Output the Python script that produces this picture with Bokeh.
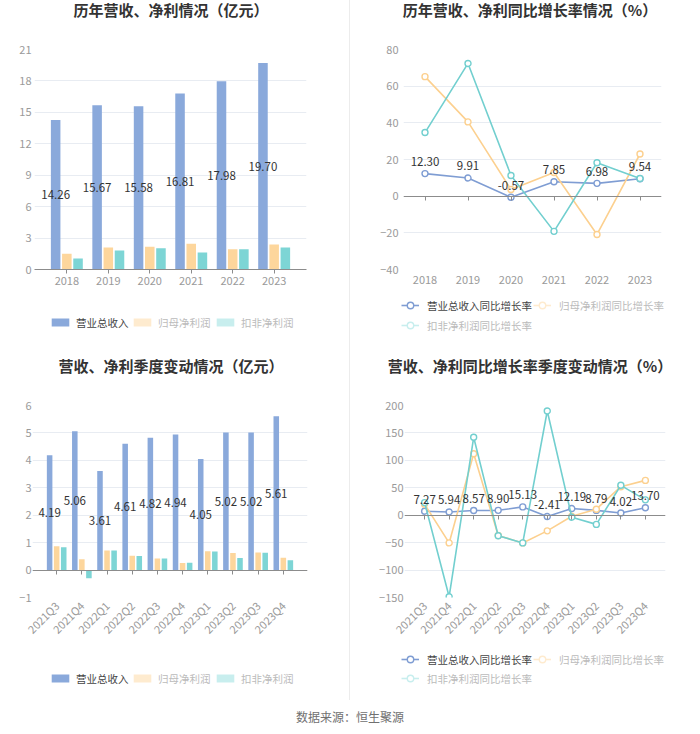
import math
from bokeh.plotting import figure
from bokeh.models import (Range1d, FactorRange, FixedTicker, CategoricalAxis, Legend,
                          LegendItem, Div, ColumnDataSource)
from bokeh.layouts import column, row
from bokeh.embed import file_html
from bokeh.resources import INLINE
from bokeh.core.properties import value
from bokeh.transform import dodge

# ---------------- data ----------------
years = ["2018", "2019", "2020", "2021", "2022", "2023"]
rev_year = [14.26, 15.67, 15.58, 16.81, 17.98, 19.70]
np_year = [1.50, 2.10, 2.17, 2.45, 1.94, 2.39]
kf_year = [1.05, 1.81, 2.03, 1.62, 1.94, 2.10]

rev_yoy = [12.30, 9.91, -0.57, 7.85, 6.98, 9.54]
np_yoy = [65.2, 40.5, 3.6, 12.9, -20.9, 23.0]
kf_yoy = [34.7, 72.4, 11.3, -19.2, 18.2, 9.6]

quarters = ["2021Q3", "2021Q4", "2022Q1", "2022Q2", "2022Q3",
            "2022Q4", "2023Q1", "2023Q2", "2023Q3", "2023Q4"]
rev_q = [4.19, 5.06, 3.61, 4.61, 4.82, 4.94, 4.05, 5.02, 5.02, 5.61]
np_q = [0.87, 0.39, 0.71, 0.52, 0.42, 0.26, 0.69, 0.62, 0.64, 0.45]
kf_q = [0.83, -0.30, 0.71, 0.51, 0.42, 0.27, 0.68, 0.44, 0.63, 0.36]

rev_q_yoy = [7.27, 5.94, 8.57, 8.90, 15.13, -2.41, 12.19, 8.79, 4.02, 13.70]
np_q_yoy = [20.0, -50.5, 112.0, -37.0, -50.5, -28.5, -2.0, 11.0, 52.0, 63.5]
kf_q_yoy = [23.0, -148.5, 142.0, -37.4, -50.5, 190.0, -3.6, -16.7, 54.5, 28.0]

ticks_tl = [0, 3, 6, 9, 12, 15, 18, 21]
ticks_tr = [-40, -20, 0, 20, 40, 60, 80]
ticks_bl = [-1, 0, 1, 2, 3, 4, 5, 6]
ticks_br = [-150, -100, -50, 0, 50, 100, 150, 200]

titles = ["历年营收、净利情况（亿元）", "历年营收、净利同比增长率情况（%）",
          "营收、净利季度变动情况（亿元）", "营收、净利同比增长率季度变动情况（%）"]
names_bar = ["营业总收入", "归母净利润", "扣非净利润"]
names_line = ["营业总收入同比增长率", "归母净利润同比增长率", "扣非净利润同比增长率"]
source_note = "数据来源：恒生聚源"

# ---------------- style ----------------
FONT = "Noto Sans CJK SC"
C_BLUE = "#8aa9db"
C_ORANGE = "#fdd69c"
C_TEAL = "#7dd5d5"
L_BLUE = "#7f9dd3"
L_ORANGE = "#fcd08f"
L_TEAL = "#72cfcf"
P_ORANGE = "#feebcf"
P_TEAL = "#c8eeee"
GRID = "#e8ecf2"
AXIS = "#8c8c8c"
TICK_TXT = "#9a9a9a"
W = 350


def title_div(text, height, inner_w, line_h):
    html = (f'<div style="width:{inner_w}px;text-align:center;font-family:\'{FONT}\';'
            f'font-weight:bold;font-size:15px;color:#333333;line-height:{line_h}px;'
            f'white-space:nowrap;position:relative;left:5px;">{text}</div>')
    return Div(text=html, width=W, height=height, margin=0)


def base_fig(x_factors, pad, y0, y1, yticks, height, bl, br, bt, bb, ystand):
    p = figure(width=W, height=height,
               x_range=FactorRange(*x_factors, range_padding=pad,
                                   range_padding_units="absolute"),
               y_range=Range1d(y0, y1), output_backend="svg", toolbar_location=None,
               min_border_left=bl, min_border_right=br, min_border_top=bt,
               min_border_bottom=bb)
    p.frame_align = False
    p.outline_line_color = None
    p.background_fill_color = "white"
    p.border_fill_color = "white"
    p.xgrid.grid_line_color = None
    p.ygrid.grid_line_color = GRID
    p.yaxis.ticker = FixedTicker(ticks=yticks)
    p.yaxis.axis_line_color = None
    p.yaxis.major_tick_line_color = None
    p.yaxis.minor_tick_line_color = None
    p.yaxis.major_tick_out = 0
    p.yaxis.major_tick_in = 0
    p.yaxis.major_label_standoff = ystand
    p.yaxis.major_label_text_font = FONT
    p.yaxis.major_label_text_font_size = "11px"
    p.yaxis.major_label_text_color = TICK_TXT
    ax = p.xaxis[0]
    ax.major_label_text_font = FONT
    ax.major_label_text_font_size = "11px"
    ax.major_label_text_color = TICK_TXT
    return p


def zero_axis(p):
    ax = p.xaxis[0]
    ax.axis_line_color = None
    ax.major_tick_line_color = None
    ax.major_tick_out = 0
    ax.major_tick_in = 0
    za = CategoricalAxis(fixed_location=0, axis_line_color=AXIS, major_tick_line_color=AXIS,
                         major_tick_out=4, major_tick_in=0, major_label_text_font_size="0px",
                         major_label_text_alpha=0)
    p.add_layout(za, "below")


def legend_fig(height):
    lf = figure(width=W, height=height, x_range=Range1d(0, 1), y_range=Range1d(0, 1),
                output_backend="svg", toolbar_location=None, min_border=0,
                min_border_left=0, min_border_right=0, min_border_top=0, min_border_bottom=0)
    lf.frame_align = False
    lf.axis.visible = False
    lf.grid.visible = False
    lf.outline_line_color = None
    return lf


def add_item(lf, label, renderers, loc, txt_color, gw, gh, standoff):
    lg = Legend(items=[LegendItem(label=label, renderers=renderers)], location=loc,
                orientation="horizontal", padding=0, margin=0, spacing=0,
                border_line_alpha=0, background_fill_alpha=0,
                label_text_font=FONT, label_text_font_size="10.5px",
                label_text_color=txt_color, glyph_width=gw, glyph_height=gh,
                label_standoff=standoff, label_height=16)
    lf.add_layout(lg, "center")


# legend swatches are proxy glyphs placed outside the legend strip's visible range
def bar_legend(height, xs, vy):
    lf = legend_fig(height)
    cols = [C_BLUE, P_ORANGE, P_TEAL]
    txt = ["#444444", "#bbbbbb", "#bbbbbb"]
    for name, c, t, x in zip(names_bar, cols, txt, xs):
        r = lf.vbar(x=[-5], top=[-5], width=0.2, fill_color=c, line_color=None)
        add_item(lf, name, [r], (x, vy), t, 22, 10, 5)
    return lf


def line_legend(height, locs):
    lf = legend_fig(height)
    cols = [L_BLUE, P_ORANGE, P_TEAL]
    txt = ["#444444", "#bbbbbb", "#bbbbbb"]
    for name, c, t, loc in zip(names_line, cols, txt, locs):
        rl = lf.line(x=[-5, -4], y=[-5, -5], line_color=c, line_width=1.6)
        rs = lf.scatter(x=[-5], y=[-5], marker="circle", size=6, fill_color="white",
                        line_color=c, line_width=1.4)
        add_item(lf, name, [rl, rs], loc, t, 18, 16, 8)
    return lf


def bar_chart(cats, pad, rev, npv, kfv, yr, yticks, height, bl, br, bt, bb, ystand, w, off, rotate):
    p = base_fig(cats, pad, yr[0], yr[1], yticks, height, bl, br, bt, bb, ystand)
    src = ColumnDataSource(dict(cat=cats, rev=rev, npv=npv, kfv=kfv,
                                mid=[v / 2 for v in rev],
                                lab=[f"{v:.2f}" for v in rev]))
    p.vbar(x=dodge("cat", -off, range=p.x_range), top="rev", width=w, source=src,
           fill_color=C_BLUE, line_color=None)
    p.vbar(x=dodge("cat", 0, range=p.x_range), top="npv", width=w, source=src,
           fill_color=C_ORANGE, line_color=None)
    p.vbar(x=dodge("cat", off, range=p.x_range), top="kfv", width=w, source=src,
           fill_color=C_TEAL, line_color=None)
    p.text(x=dodge("cat", -off, range=p.x_range), y="mid", text="lab", source=src,
           text_font=value(FONT), text_font_size="11.5px", text_color="#333333",
           text_align="center", text_baseline="middle")
    if rotate:
        zero_axis(p)
        p.xaxis[0].major_label_orientation = math.pi / 4
        p.xaxis[0].major_label_standoff = 6
    else:
        ax = p.xaxis[0]
        ax.axis_line_color = AXIS
        ax.major_tick_line_color = AXIS
        ax.major_tick_out = 4
        ax.major_tick_in = 0
        ax.major_label_standoff = 3
    return p


def line_chart(cats, pad, rev, npv, kfv, yr, yticks, height, bl, br, bt, bb, ystand, rotate):
    p = base_fig(cats, pad, yr[0], yr[1], yticks, height, bl, br, bt, bb, ystand)
    src = ColumnDataSource(dict(cat=cats, rev=rev, npv=npv, kfv=kfv,
                                lab=[f"{v:.2f}" for v in rev]))
    zero_axis(p)
    p.xaxis[0].major_label_standoff = 6
    if rotate:
        p.xaxis[0].major_label_orientation = math.pi / 4
    for col, c in (("rev", L_BLUE), ("npv", L_ORANGE), ("kfv", L_TEAL)):
        p.line("cat", col, source=src, line_color=c, line_width=1.6)
        p.scatter("cat", col, source=src, marker="circle", size=6, fill_color="white",
                  line_color=c, line_width=1.4)
    p.text(x="cat", y="rev", text="lab", source=src, y_offset=-12,
           text_font=value(FONT), text_font_size="11.5px", text_color="#333333",
           text_align="center", text_baseline="middle")
    return p


# ---------------- top row ----------------
t1 = title_div(titles[0], 24, 332, 20)
p1 = bar_chart(years, 0.28, rev_year, np_year, kf_year, (0, 21), ticks_tl,
               270, 34, 44, 25, 25, 3, 0.23, 0.27, False)
l1 = bar_legend(56, [49, 131, 214], 20)

t2 = title_div(titles[1], 24, W, 20)
p2 = line_chart(years, 0.0, rev_yoy, np_yoy, kf_yoy, (-40, 80), ticks_tr,
                270, 53, 39, 25, 25, 5, False)
l2 = line_legend(56, [(51, 37), (183, 37), (51, 17)])

# ---------------- bottom row ----------------
t3 = title_div(titles[2], 34, 332, 32)
p3 = bar_chart(quarters, 0.46, rev_q, np_q, kf_q, (-1, 6), ticks_bl,
               261, 32, 43, 21, 44, 1, 0.22, 0.28, True)
l3 = bar_legend(55, [49, 131, 214], 14)

t4 = title_div(titles[3], 34, W, 32)
p4 = line_chart(quarters, 0.32, rev_q_yoy, np_q_yoy, kf_q_yoy, (-150, 200), ticks_br,
                261, 54, 35, 21, 44, 1, True)
l4 = line_legend(55, [(51, 33), (183, 33), (51, 14)])

footer = Div(text=(f'<div style="width:700px;text-align:center;font-family:\'{FONT}\';'
                   f'font-size:12px;color:#707070;line-height:34px;">{source_note}</div>'),
             width=700, height=34, margin=0)

sep = {"box-shadow": "-1px 0 0 #ececec"}
layout = column(
    row(column(t1, p1, l1), column(t2, p2, l2, styles=sep)),
    row(column(t3, p3, l3), column(t4, p4, l4, styles=sep)),
    footer,
)

open("out.html", "w").write(file_html(layout, INLINE))
